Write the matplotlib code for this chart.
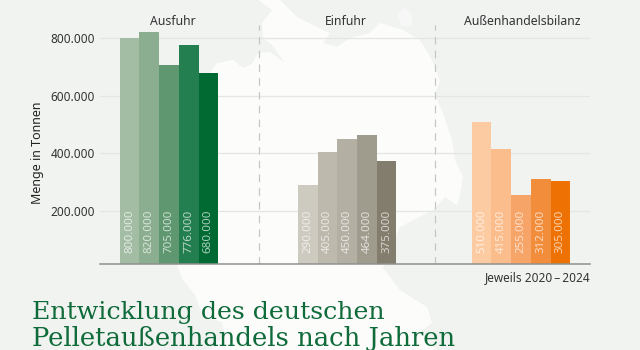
import matplotlib
matplotlib.use('Agg')
import matplotlib.pyplot as plt
from matplotlib.patches import Polygon
from matplotlib.transforms import offset_copy

# Daten
gruppen = ['Ausfuhr', 'Einfuhr', 'Außenhandelsbilanz']
ausfuhr = [800000, 820000, 705000, 776000, 680000]
einfuhr = [290000, 405000, 450000, 464000, 375000]
bilanz = [510000, 415000, 255000, 312000, 305000]
y_ticks = [200000, 400000, 600000, 800000]

farben_aus = ['#a3bda5', '#8aae8f', '#5f9870', '#237f4f', '#006a32']
farben_ein = ['#cdcabf', '#bdb9ac', '#b3afa2', '#a09c8d', '#827d6c']
farben_bil = ['#fdcba2', '#fbbd8c', '#f7a468', '#f28d3c', '#ee7203']

BG = '#f1f3f1'
W, H = 640, 350

plt.rcParams['font.family'] = ['Noto Sans', 'DejaVu Sans']

fig = plt.figure(figsize=(W / 100, H / 100), dpi=100, facecolor=BG)

# Landkarte im Hintergrund (nur Deko, in Pixeln)
bg = fig.add_axes([0, 0, 1, 1], zorder=0)
bg.set_xlim(0, W)
bg.set_ylim(H, 0)
bg.axis('off')
karte = [(210, 350), (225, 335), (222, 322), (203, 317), (195, 295), (183, 280), (178, 268),
         (170, 200), (190, 100), (217, 63), (233, 60), (243, 68), (252, 64), (258, 53),
         (270, 52), (285, 63), (272, 45), (263, 38), (262, 23), (272, 10), (258, 0),
         (280, 0), (297, 17), (307, 22), (330, 33), (323, 43), (337, 47), (350, 38),
         (370, 33), (380, 23), (403, 30), (420, 40), (432, 60), (440, 80), (435, 95),
         (443, 113), (452, 140), (455, 160), (463, 177), (460, 195), (457, 205), (445, 197),
         (433, 210), (400, 227), (392, 245), (383, 268), (400, 290), (427, 307), (432, 323),
         (420, 332), (437, 350)]
bg.add_patch(Polygon(karte, closed=True, fc='#fcfcfb', ec='none'))
insel = [(397, 14), (405, 8), (413, 16), (411, 27), (401, 26)]
bg.add_patch(Polygon(insel, closed=True, fc='#f6f7f6', ec='none'))

# Achse 100..590 px, 25..264 px
ax = fig.add_axes([100 / W, 1 - 264 / H, 490 / W, 239 / H], zorder=1)
ax.patch.set_alpha(0)
ax.set_xlim(0, 490 / 19.7)
ax.set_ylim(16300, 845000)

starts = [1.0, 10.05, 18.87]
titel_x = [172.5, 346, 522]
serien = [ausfuhr, einfuhr, bilanz]
farben = [farben_aus, farben_ein, farben_bil]
titel_trans = offset_copy(ax.get_xaxis_transform(), fig=fig, y=-2, units='points')
for start, werte, cols, name, tx in zip(starts, serien, farben, gruppen, titel_x):
    xs = [start + i + 0.5 for i in range(len(werte))]
    ax.bar(xs, werte, width=1.0, color=cols, zorder=3)
    for x, v in zip(xs, werte):
        ax.text(x, 53000, f'{v:,}'.replace(',', '.'), rotation=90, ha='center', va='bottom',
                color='white', alpha=0.68, fontsize=8.3, zorder=4)
    ax.text((tx - 100) / 19.7, 1.0, name, transform=titel_trans, ha='center',
            va='bottom', fontsize=8.8, color='#333333', clip_on=False)

for x in [(258.5 - 100) / 19.7, (434.5 - 100) / 19.7]:
    ax.axvline(x, color='#c4c7c4', lw=0.9, ls=(0, (6, 5)), zorder=2)

ax.set_yticks(y_ticks)
ax.set_yticklabels([f'{v:,}'.replace(',', '.') for v in y_ticks], fontsize=8.5, color='#333333')
ax.set_xticks([])
ax.tick_params(axis='y', length=0, pad=3.5)
ax.grid(axis='y', color='#e3e6e3', lw=0.9, zorder=1)
ax.set_axisbelow(True)
for s in ['top', 'right', 'left']:
    ax.spines[s].set_visible(False)
ax.spines['bottom'].set_color('#8f918e')
ax.spines['bottom'].set_linewidth(1.1)
ax.spines['bottom'].set_zorder(5)

fig.text(38 / W, 1 - 153 / H, 'Menge in Tonnen', rotation=90, ha='center', va='center',
         fontsize=9, color='#222222')
fig.text(590 / W, 1 - 278 / H, 'Jeweils 2020\u2009–\u20092024', ha='right', va='center',
         fontsize=8.5, color='#333333')
fig.text(32 / W, 1 - 319 / H, 'Entwicklung des deutschen', ha='left', va='baseline',
         fontsize=18.2, color='#0f6b3a', family='DejaVu Serif')
fig.text(32 / W, 1 - 346 / H, 'Pelletaußenhandels nach Jahren', ha='left', va='baseline',
         fontsize=18.6, color='#0f6b3a', family='DejaVu Serif')

fig.savefig('out.png', dpi=100, facecolor=BG)
